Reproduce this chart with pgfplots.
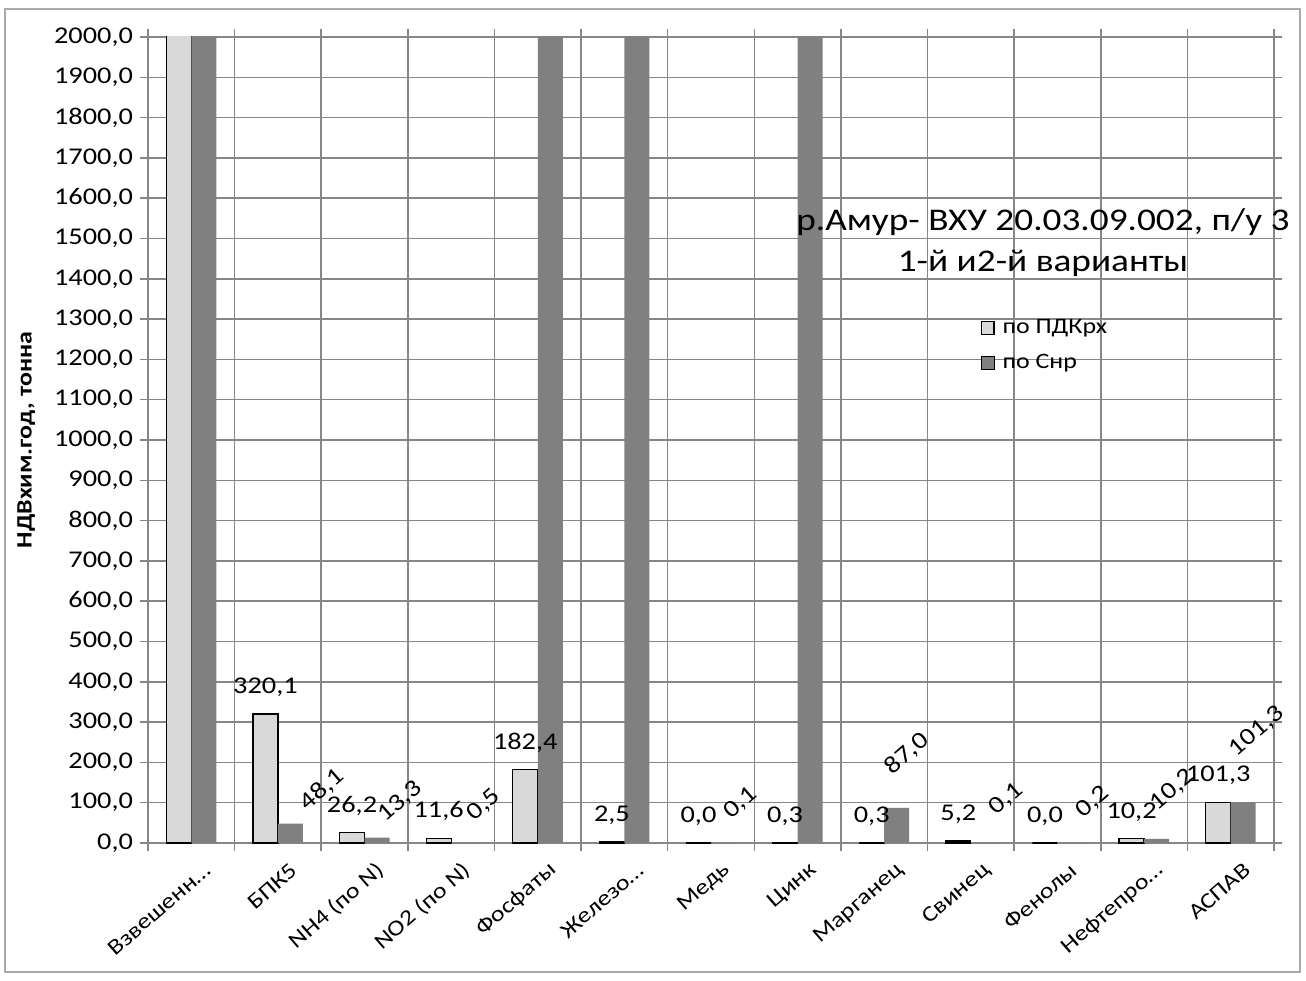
\documentclass[border=0pt]{standalone}
\usepackage{fontspec}
\setmainfont{Carlito}[FakeStretch=1.18]
\usepackage{pgfplots}
\usepackage{pgfplotstable}
\pgfplotsset{compat=1.18}
\definecolor{lightbar}{RGB}{217,217,217}
\definecolor{darkbar}{RGB}{128,128,128}
\definecolor{gridc}{RGB}{134,134,134}

\pgfplotstableread{
x y label
0 2500 {}
1 320.1 320,1
2 26.2 26,2
3 11.6 11,6
4 182.4 182,4
5 2.5 2,5
6 0.0 0,0
7 0.3 0,3
8 0.3 0,3
9 5.2 5,2
10 0.0 0,0
11 10.2 10,2
12 101.3 101,3
}\seriesone

\pgfplotstableread{
x y label dx dy
0 2500 {} 0 0
1 48.1 48,1 16 17
2 13.3 13,3 11.5 18
3 0.5 0,5 10 19
4 2500 {} 0 0
5 2500 {} 0 0
6 0.1 0,1 8.5 20
7 2500 {} 0 0
8 87.0 87,0 5 27
9 0.1 0,1 11.5 22
10 0.2 0,2 11.5 20.5
11 10.2 10,2 8 24.5
12 101.3 101,3 7 35.5
}\seriestwo

\begin{document}
\begin{tikzpicture}
\useasboundingbox (-74pt,-68.5pt) rectangle (579pt,421.5pt);
\draw[gridc!70, line width=0.6pt] (-71.5pt,-64.5pt) rectangle (576pt,417pt);
\begin{axis}[
  at={(0,0)}, anchor=south west,
  scale only axis, width=563pt, height=403pt,
  ybar=0pt, bar width=12.5pt,
  xmin=-0.5, xmax=12.5, ymin=0, ymax=2000,
  ytick={0,100,...,2000},
  scaled y ticks=false,
  xtick={0,...,12},
  xticklabels={Взвешенн…, БПК5, NH4 (по N), NO2 (по N), Фосфаты, Железо…, Медь, Цинк, Марганец, Свинец, Фенолы, Нефтепро…, АСПАВ},
  minor xtick={-0.5,0.5,...,12.5},
  xminorgrids=true, ymajorgrids=true, xmajorgrids=false,
  grid style={gridc, line width=0.75pt},
  minor grid style={gridc, line width=0.75pt},
  axis line style={gridc, line width=0.75pt},
  tick align=outside,
  major tick length=4pt, minor tick length=4pt,
  tick style={gridc, line width=0.75pt},
  major x tick style={draw=none},
  tick label style={font=\fontsize{12}{14}\selectfont},
  /pgf/number format/assume math mode=true,
  yticklabel style={/pgf/number format/fixed, /pgf/number format/fixed zerofill, /pgf/number format/precision=1, /pgf/number format/use comma, /pgf/number format/1000 sep={}},
  xticklabel style={font=\fontsize{11}{13}\selectfont, rotate=41, anchor=east, inner sep=1pt, xshift=2pt, yshift=-11.5pt},
  ylabel={НДВхим.год, тонна},
  ylabel style={font=\bfseries\fontsize{11}{13}\selectfont, at={(rel axis cs:-0.108,0.5)}, anchor=center},
  legend style={at={(rel axis cs:0.739,0.655)}, anchor=north west, draw=none, fill=none, font=\fontsize{11}{13}\selectfont, row sep=5pt, inner sep=0pt},
  legend cell align=left,
  legend image code/.code={\draw[#1] (0pt,-3.2pt) rectangle (6.4pt,3.2pt);},
]
\addplot[fill=lightbar, draw=black, line width=0.6pt,
  nodes near coords, point meta=explicit symbolic,
  every node near coord/.append style={anchor=center, yshift=13.5pt, font=\fontsize{12}{14}\selectfont, black}]
  table[x=x, y=y, meta=label]{\seriesone};
\addplot[fill=darkbar, draw=none,
  nodes near coords, point meta=explicit symbolic,
  visualization depends on={\thisrow{dx} \as \ldx},
  visualization depends on={\thisrow{dy} \as \ldy},
  every node near coord/.append style={anchor=center, xshift=\ldx pt, yshift=\ldy pt, rotate=41, font=\fontsize{12}{14}\selectfont, black}]
  table[x=x, y=y, meta=label]{\seriestwo};
\legend{\hspace{2pt}по ПДКрх, \hspace{2pt}по Снр}
\end{axis}
\node[align=center, font=\fontsize{15.8}{20.5}\selectfont, black] at (447.5pt,300.2pt) {р.Амур- ВХУ 20.03.09.002, п/у 3\\1-й и2-й варианты};
\end{tikzpicture}
\end{document}
